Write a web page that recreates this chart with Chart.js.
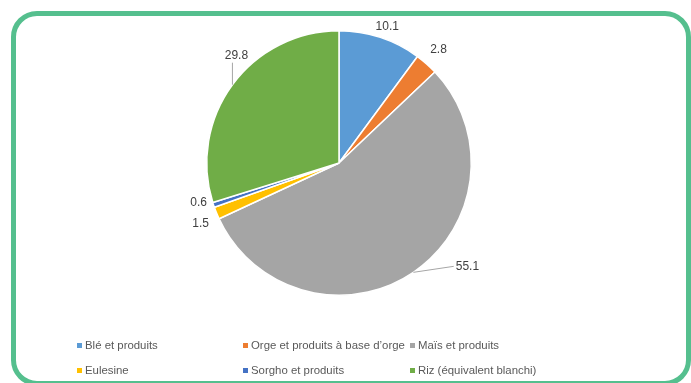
<!DOCTYPE html>
<html>
<head>
<meta charset="utf-8">
<script src="https://cdn.jsdelivr.net/npm/chart.js@4/dist/chart.umd.min.js"></script>
<style>
  html, body { margin: 0; padding: 0; background: #fff; }
  #wrap { position: relative; width: 691px; height: 383px; overflow: hidden; }
  #frame { position: absolute; left: 11px; top: 11px; width: 680px; height: 375px; box-sizing: border-box;
           border: 5px solid #55bf8e; border-radius: 26px; }
  canvas { position: absolute; left: 0; top: 0; }
  .lg { position: absolute; font-family: "Liberation Sans", Arial, sans-serif; font-size: 11.4px; color: #595959; white-space: nowrap; line-height: 14px; }
  .lg i { position: absolute; left: -8px; top: 5px; width: 5px; height: 5px; }
</style>
</head>
<body>
<div id="wrap">
  <div id="frame"></div>
  <canvas id="c" width="691" height="383"></canvas>
</div>
<script>
const categories = ["Blé et produits", "Orge et produits à base d’orge", "Maïs et produits", "Eulesine", "Sorgho et produits", "Riz (équivalent blanchi)"];
const values = [10.1, 2.8, 55.1, 1.5, 0.6, 29.8];
const valueLabels = ["10.1", "2.8", "55.1", "1.5", "0.6", "29.8"];
const colors = ["#5b9bd5", "#ed7d31", "#a5a5a5", "#ffc000", "#4472c4", "#70ad47"];

// label offsets from slice edge anchor (style only)
const labelOffsets = [[7, -11], [12, -14], [54, -6], [-16, 11], [-15, -2], [4, -29]];
const leaderLines = [false, false, true, false, false, true];

const labelPlugin = {
  id: 'sliceLabels',
  afterDatasetsDraw(chart) {
    const ctx = chart.ctx;
    const meta = chart.getDatasetMeta(0);
    ctx.save();
    ctx.font = '12px "Liberation Sans", Arial, sans-serif';
    ctx.fillStyle = '#404040';
    ctx.textAlign = 'center';
    ctx.textBaseline = 'middle';
    meta.data.forEach((arc, i) => {
      const mid = (arc.startAngle + arc.endAngle) / 2;
      const ax = arc.x + Math.cos(mid) * arc.outerRadius;
      const ay = arc.y + Math.sin(mid) * arc.outerRadius;
      const lx = ax + labelOffsets[i][0];
      const ly = ay + labelOffsets[i][1];
      const txt = valueLabels[i];
      const w = ctx.measureText(txt).width;
      if (leaderLines[i]) {
        ctx.strokeStyle = '#a6a6a6';
        ctx.lineWidth = 1;
        ctx.beginPath();
        ctx.moveTo(ax, ay);
        if (Math.abs(labelOffsets[i][0]) > Math.abs(labelOffsets[i][1])) {
          ctx.lineTo(lx - w / 2 - 2, ly);
        } else {
          ctx.lineTo(ax, ly + 7);
        }
        ctx.stroke();
      }
      ctx.fillText(txt, lx, ly);
    });
    ctx.restore();
  }
};

new Chart(document.getElementById('c'), {
  type: 'pie',
  data: {
    labels: categories,
    datasets: [{
      data: values,
      backgroundColor: colors,
      borderColor: '#ffffff',
      borderWidth: 1.5
    }]
  },
  options: {
    responsive: false,
    animation: false,
    layout: { padding: { left: 206, top: 30, right: 219, bottom: 87 } },
    plugins: { legend: { display: false }, tooltip: { enabled: false } }
  },
  plugins: [labelPlugin]
});

// legend (HTML text)
const legendCols = [85, 251, 418];
const legendRows = [338, 363];
const wrap = document.getElementById('wrap');
categories.forEach((name, i) => {
  const d = document.createElement('div');
  d.className = 'lg';
  d.style.left = legendCols[i % 3] + 'px';
  d.style.top = legendRows[Math.floor(i / 3)] + 'px';
  const m = document.createElement('i');
  m.style.background = colors[i];
  d.appendChild(m);
  d.appendChild(document.createTextNode(name));
  wrap.appendChild(d);
});
</script>
</body>
</html>
